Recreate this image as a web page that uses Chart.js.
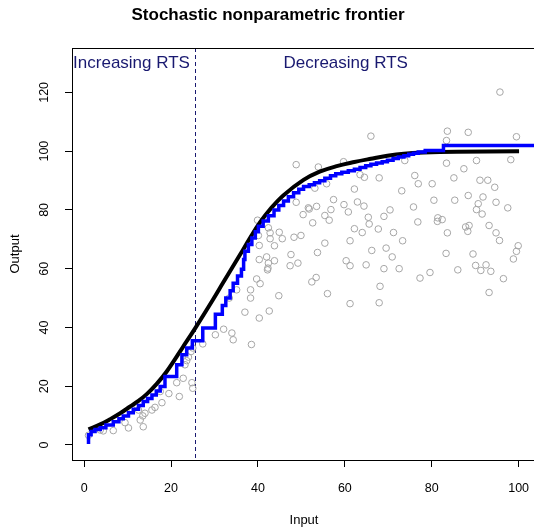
<!DOCTYPE html>
<html>
<head>
<meta charset="utf-8">
<script src="https://cdn.jsdelivr.net/npm/chart.js@4"></script>
<style>
  html, body { margin: 0; padding: 0; background: #fff; overflow: hidden; }
  #wrap { width: 594px; height: 528px; }
</style>
</head>
<body>
<div id="wrap"><canvas id="chart" width="594" height="528"></canvas></div>
<script>
// observed firms (input, output)
const inputX = [
  1.0, 3.7, 4.4, 6.7, 10.2, 9.4, 13.6, 12.9, 13.5, 14.0, 15.6, 16.3, 12.5, 11.0, 11.7, 17.9, 17.5, 19.5, 21.9, 21.3,
  22.8, 24.8, 25.0, 23.2, 23.6, 24.0, 24.6, 25.0, 27.3, 30.2, 32.1, 34.0, 34.3, 38.5, 33.4, 35.1, 37.0, 38.3, 38.3, 39.7,
  40.5, 40.3, 42.6, 44.8, 42.2,
  39.9, 42.4, 42.8, 44.9, 45.6, 42.8, 40.1, 40.3, 43.8, 48.3, 49.9, 48.8, 50.4, 51.8, 40.3, 42.0, 43.8, 42.4, 42.3, 47.6,
  49.2, 47.4,
  53.9, 59.7, 63.5, 64.5, 67.9, 55.8, 53.1, 62.2, 76.1, 76.9, 73.1, 57.4, 59.8, 62.9, 64.4, 51.6, 53.5, 56.8, 60.8, 55.4,
  56.4, 52.6, 65.4, 65.6, 69.0, 70.4, 75.8, 76.8, 62.2, 64.0, 67.7, 71.2, 61.2, 73.3, 55.4, 53.7, 66.2, 69.5, 70.9, 60.3,
  61.2, 64.9, 69.0, 72.5, 53.4, 52.4, 68.1, 56.0, 61.2, 67.9, 77.3, 79.6, 86.0, 91.3, 93.6, 93.2, 96.5, 48.8, 66.0, 73.8,
  95.7, 83.6, 88.4, 83.4, 99.5, 83.4, 90.3, 87.4, 98.2, 80.1, 85.1, 91.1, 92.9, 94.5, 80.5, 85.3, 88.4, 91.8, 90.7, 94.8,
  97.5, 90.3, 91.6, 81.4, 82.4, 81.3, 83.6, 87.8, 88.6, 88.3, 93.2, 94.8, 95.6, 99.9, 99.5, 98.8, 83.3, 89.5, 90.1, 92.5
];
const outputY = [
  3.3, 5.1, 4.8, 4.9, 5.8, 7.6, 6.2, 8.5, 9.9, 10.8, 11.9, 12.8, 11.9, 12.2, 13.3, 14.4, 18.2, 17.5, 16.5, 21.2,
  22.7, 21.2, 19.3, 27.3, 28.7, 29.9, 31.8, 33.0, 34.4, 37.5, 39.4, 38.1, 35.8, 34.2, 50.0, 52.8, 45.2, 52.8, 50.0, 56.5,
  54.9, 43.2, 45.6, 50.8, 59.6,
  76.5, 73.9, 72.2, 72.4, 70.2, 70.2, 71.3, 67.9, 67.8, 70.7, 71.3, 82.6, 78.4, 80.3, 63.1, 64.0, 62.7, 61.9, 60.2, 64.8,
  61.9, 61.0,
  94.6, 96.4, 92.0, 91.1, 90.9, 88.9, 87.4, 87.1, 91.7, 88.9, 86.5, 83.5, 81.8, 82.7, 81.3, 80.7, 81.2, 80.1, 79.3, 78.1,
  76.5, 75.6, 77.5, 75.2, 77.8, 80.0, 81.0, 75.9, 73.6, 72.3, 73.5, 72.3, 69.5, 69.5, 68.7, 65.5, 66.2, 67.0, 64.0, 62.7,
  61.0, 61.3, 60.0, 60.0, 57.0, 55.5, 54.0, 51.5, 48.1, 48.4, 56.8, 58.7, 59.6, 59.4, 59.1, 51.9, 56.6, 95.4, 105.1, 96.8,
  120.1, 106.8, 106.4, 103.6, 104.9, 95.9, 96.8, 94.0, 97.1, 88.9, 90.9, 90.1, 90.1, 87.7, 83.3, 83.3, 84.9, 84.4, 82.1, 82.6,
  80.7, 80.1, 78.6, 77.3, 76.7, 76.1, 72.2, 74.2, 74.7, 72.7, 74.7, 72.2, 69.6, 67.8, 65.9, 63.3, 65.2, 65.0, 61.1, 61.3
];

// smooth frontier (black)
const smoothX = [1.0, 3.7, 6.0, 8.3, 10.6, 12.5, 14.4, 16.7, 19.0, 22.8, 25.5, 29.7, 32.0, 35.9, 38.2, 40.5, 42.8, 45.9,
                 50.5, 54.2, 57.9, 62.2, 66.0, 69.8, 73.6, 78.1, 85.7, 100.1];
const smoothY = [5.3, 7.0, 8.8, 10.8, 13.1, 15.0, 17.3, 20.8, 25.0, 33.5, 39.6, 49.6, 55.3, 64.8, 70.5, 75.8, 80.2, 85.0,
                 90.2, 93.0, 94.8, 96.3, 97.4, 98.4, 99.1, 99.5, 99.8, 100.0];

// stepwise nonparametric frontier (blue)
const stepX = [
  1.0, 1.0, 1.6, 2.5, 3.7, 5.0, 6.7, 8.0, 9.0, 10.2, 11.3, 12.5, 13.6, 14.6, 15.6, 16.6, 17.5, 18.6, 21.3, 22.5,
  23.6, 24.9, 27.3, 30.2, 31.8, 32.6, 33.6, 34.3, 35.3, 36.2, 36.7, 37.0, 37.8, 38.6, 39.4, 40.1, 41.2, 42.4, 43.7, 44.8,
  45.9, 47.0, 48.2, 49.4, 50.5, 51.8, 53.0, 54.2, 55.4, 56.7, 57.9, 59.3, 60.8, 62.2, 63.5, 64.8, 66.0, 67.3, 68.6, 69.8,
  71.1, 72.3, 73.6, 74.7, 75.8, 76.9, 78.5, 82.7, 104
];
const stepY = [
  0.3, 3.5, 4.6, 5.3, 5.9, 6.8, 7.9, 8.9, 9.9, 11.0, 12.2, 13.4, 14.8, 15.8, 17.0, 18.4, 19.9, 23.3, 27.3, 30.7,
  33.0, 35.5, 39.8, 44.5, 47.5, 50.0, 52.5, 55.0, 57.5, 59.8, 63.1, 65.9, 68.2, 70.4, 72.6, 74.4, 76.2, 78.0, 80.0, 81.5,
  83.0, 84.5, 85.8, 87.0, 88.0, 88.6, 89.2, 89.9, 90.8, 91.6, 92.3, 92.8, 93.3, 93.8, 94.4, 95.0, 95.5, 96.0, 96.4, 96.9,
  97.5, 98.0, 98.4, 98.9, 99.3, 99.7, 100.2, 101.9, 101.9
];

const xTicks = [0, 20, 40, 60, 80, 100];
const yTicks = [0, 20, 40, 60, 80, 100, 120];
const rtsBoundary = 25.4;
const rtsLabels = ['Increasing RTS', 'Decreasing RTS'];
const rtsLabelX = [10.9, 60.2];
const rtsLabelY = 130;

const FONT = '"Liberation Sans", Arial, sans-serif';
Chart.defaults.font.family = FONT;
Chart.defaults.color = '#000';

const toXY = (xs, ys) => xs.map((x, i) => ({ x, y: ys[i] }));

const rtsPlot = {
  id: 'rtsPlot',
  beforeDatasetsDraw(chart) {
    const { ctx, chartArea: a, scales: { x } } = chart;
    const bx = Math.round(x.getPixelForValue(rtsBoundary)) + 0.5;
    ctx.save();
    ctx.strokeStyle = 'midnightblue';
    ctx.lineWidth = 1;
    ctx.setLineDash([4, 3]);
    ctx.beginPath();
    ctx.moveTo(bx, a.top);
    ctx.lineTo(bx, a.bottom);
    ctx.stroke();
    ctx.restore();
  },
  afterDatasetsDraw(chart) {
    const { ctx, chartArea: a, scales: { x, y } } = chart;
    ctx.save();
    ctx.strokeStyle = '#000';
    ctx.lineWidth = 1;
    ctx.strokeRect(Math.round(a.left) + 0.5, Math.round(a.top) + 0.5,
                   Math.round(a.right - a.left), Math.round(a.bottom - a.top));
    ctx.fillStyle = 'midnightblue';
    ctx.font = '17px ' + FONT;
    ctx.textAlign = 'center';
    ctx.textBaseline = 'middle';
    rtsLabels.forEach((t, i) => ctx.fillText(t, x.getPixelForValue(rtsLabelX[i]), y.getPixelForValue(rtsLabelY)));
    ctx.restore();
  }
};

new Chart(document.getElementById('chart'), {
  type: 'line',
  data: {
    datasets: [
      { label: 'step', data: toXY(stepX, stepY), stepped: true, borderColor: '#0000ff', borderWidth: 3.5,
        pointRadius: 0, fill: false },
      { label: 'smooth', data: toXY(smoothX, smoothY), tension: 0.4, borderColor: '#000',
        borderWidth: 4, pointRadius: 0, fill: false },
      { label: 'firms', data: toXY(inputX, outputY), showLine: false, pointRadius: 3.3, pointStyle: 'circle',
        borderColor: '#a6a6a6', backgroundColor: 'rgba(0,0,0,0)', pointBorderWidth: 1 }
    ]
  },
  options: {
    responsive: false,
    animation: false,
    events: [],
    layout: { padding: { left: 0, top: 0, bottom: 0, right: 58 } },
    plugins: {
      legend: { display: false },
      tooltip: { enabled: false },
      title: { display: true, text: 'Stochastic nonparametric frontier', color: '#000',
               font: { size: 17, weight: 'bold' }, padding: { top: 4.8, bottom: 22.8 } }
    },
    scales: {
      x: {
        type: 'linear', min: -2.8, max: 104,
        afterFit: s => { s.height = 68; },
        afterBuildTicks: s => { s.ticks = xTicks.map(v => ({ value: v })); },
        border: { display: false },
        grid: { drawOnChartArea: false, drawTicks: true, tickLength: 7, color: '#000' },
        ticks: { font: { size: 12.5 }, padding: 14, color: '#000', maxRotation: 0 },
        title: { display: true, text: 'Input', font: { size: 13 }, padding: { bottom: 0.2 } }
      },
      y: {
        type: 'linear', min: -5.11, max: 135.1,
        afterFit: s => { s.width = 72; },
        afterBuildTicks: s => { s.ticks = yTicks.map(v => ({ value: v })); },
        border: { display: false },
        grid: { drawOnChartArea: false, drawTicks: true, tickLength: 7, color: '#000' },
        ticks: { font: { size: 12.5 }, padding: 10, color: '#000', minRotation: 90, maxRotation: 90, crossAlign: 'center' },
        title: { display: true, text: 'Output', font: { size: 13 }, padding: { top: 7.2 } }
      }
    }
  },
  plugins: [rtsPlot]
});
</script>
</body>
</html>
